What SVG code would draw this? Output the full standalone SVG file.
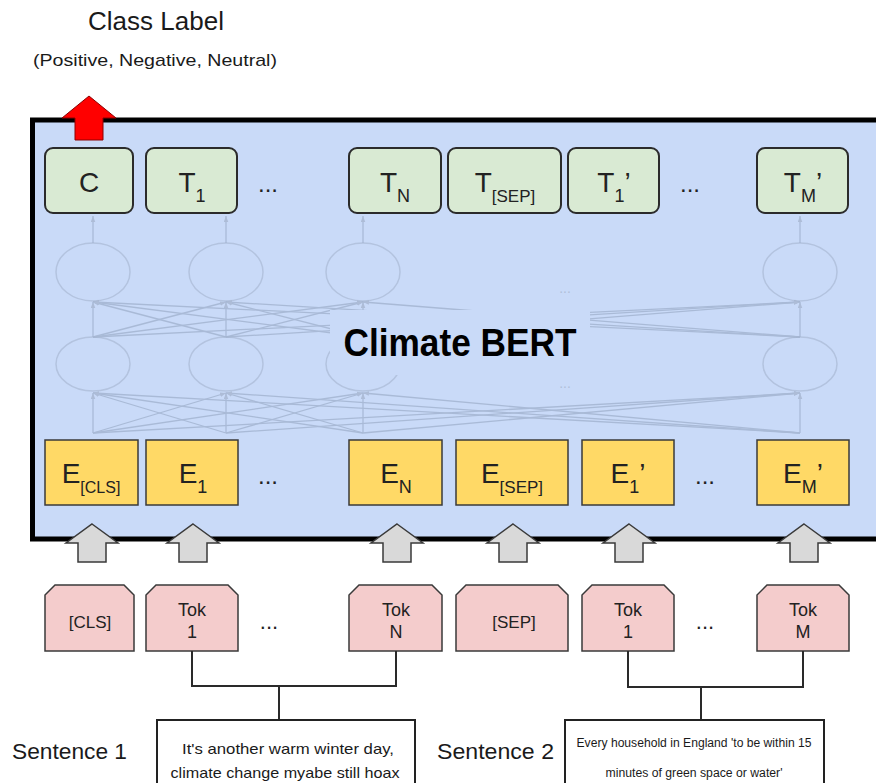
<svg xmlns="http://www.w3.org/2000/svg" width="876" height="783" viewBox="0 0 876 783">
<defs>
<style>
.lbl{font-family:"Liberation Sans",Arial,sans-serif;fill:#1a1a1a}
.box{font-family:"Liberation Sans",Arial,sans-serif;fill:#222}
.green{fill:#d9ead3;stroke:#2b2b2b;stroke-width:2}
.yellow{fill:#ffd966;stroke:#3a3a3a;stroke-width:1.5}
.pink{fill:#f4cccc;stroke:#3a3a3a;stroke-width:1.5}
.net{stroke:#9fb0cc;stroke-width:1.3;fill:none;opacity:0.75}
.ell{stroke:#b3c3df;stroke-width:1.5;fill:none}
.gray{fill:#d9d9d9;stroke:#3a3a3a;stroke-width:1.5;stroke-linejoin:miter}
.con{stroke:#2a2a2a;stroke-width:2;fill:none}
</style>
<marker id="ah" viewBox="0 0 8 6" refX="8" refY="3" markerWidth="6" markerHeight="5" orient="auto" markerUnits="userSpaceOnUse">
<path d="M0,0 L8,3 L0,6 Z" fill="#a4b3cd"/>
</marker>
<path id="garrow" d="M0,-19 L26,0 L14,0 L14,19 L-14,19 L-14,0 L-26,0 Z"/>
</defs>

<g id="titles">
<text class="lbl" x="156" y="30" font-size="26" text-anchor="middle">Class Label</text>
<text class="lbl" x="155" y="66" font-size="17" text-anchor="middle" textLength="244" lengthAdjust="spacingAndGlyphs">(Positive, Negative, Neutral)</text>
</g>

<g id="climate-bert">
<rect x="32.5" y="120" width="860" height="419" fill="#c9daf8" stroke="#000" stroke-width="5"/>
<g id="network">
<g class="ell">
<ellipse cx="93" cy="272" rx="37" ry="29"/>
<ellipse cx="226" cy="272" rx="37" ry="29"/>
<ellipse cx="363" cy="272" rx="37" ry="29"/>
<ellipse cx="800" cy="272" rx="37" ry="29"/>
<ellipse cx="93" cy="364" rx="37" ry="27"/>
<ellipse cx="226" cy="364" rx="37" ry="27"/>
<ellipse cx="363" cy="364" rx="37" ry="27"/>
<ellipse cx="800" cy="364" rx="37" ry="27"/>
</g>
<g class="net" marker-end="url(#ah)">
<line x1="93" y1="243" x2="93" y2="216" marker-end="url(#ah)"/>
<line x1="226" y1="243" x2="226" y2="216" marker-end="url(#ah)"/>
<line x1="363" y1="243" x2="363" y2="216" marker-end="url(#ah)"/>
<line x1="800" y1="243" x2="800" y2="216" marker-end="url(#ah)"/>

<line x1="93" y1="337" x2="93" y2="302" marker-end="url(#ah)"/>
<line x1="93" y1="337" x2="226" y2="302" marker-end="url(#ah)"/>
<line x1="93" y1="337" x2="363" y2="302" marker-end="url(#ah)"/>
<line x1="93" y1="337" x2="800" y2="302" marker-end="url(#ah)"/>
<line x1="226" y1="337" x2="93" y2="302" marker-end="url(#ah)"/>
<line x1="226" y1="337" x2="226" y2="302" marker-end="url(#ah)"/>
<line x1="226" y1="337" x2="363" y2="302" marker-end="url(#ah)"/>
<line x1="226" y1="337" x2="800" y2="302" marker-end="url(#ah)"/>
<line x1="363" y1="337" x2="93" y2="302" marker-end="url(#ah)"/>
<line x1="363" y1="337" x2="226" y2="302" marker-end="url(#ah)"/>
<line x1="363" y1="337" x2="363" y2="302" marker-end="url(#ah)"/>
<line x1="363" y1="337" x2="800" y2="302" marker-end="url(#ah)"/>
<line x1="800" y1="337" x2="93" y2="302" marker-end="url(#ah)"/>
<line x1="800" y1="337" x2="226" y2="302" marker-end="url(#ah)"/>
<line x1="800" y1="337" x2="363" y2="302" marker-end="url(#ah)"/>
<line x1="800" y1="337" x2="800" y2="302" marker-end="url(#ah)"/>

<line x1="93" y1="433" x2="93" y2="393" marker-end="url(#ah)"/>
<line x1="93" y1="433" x2="226" y2="393" marker-end="url(#ah)"/>
<line x1="93" y1="433" x2="363" y2="393" marker-end="url(#ah)"/>
<line x1="93" y1="433" x2="800" y2="393" marker-end="url(#ah)"/>
<line x1="226" y1="433" x2="93" y2="393" marker-end="url(#ah)"/>
<line x1="226" y1="433" x2="226" y2="393" marker-end="url(#ah)"/>
<line x1="226" y1="433" x2="363" y2="393" marker-end="url(#ah)"/>
<line x1="226" y1="433" x2="800" y2="393" marker-end="url(#ah)"/>
<line x1="363" y1="433" x2="93" y2="393" marker-end="url(#ah)"/>
<line x1="363" y1="433" x2="226" y2="393" marker-end="url(#ah)"/>
<line x1="363" y1="433" x2="363" y2="393" marker-end="url(#ah)"/>
<line x1="363" y1="433" x2="800" y2="393" marker-end="url(#ah)"/>
<line x1="800" y1="433" x2="93" y2="393" marker-end="url(#ah)"/>
<line x1="800" y1="433" x2="226" y2="393" marker-end="url(#ah)"/>
<line x1="800" y1="433" x2="363" y2="393" marker-end="url(#ah)"/>
<line x1="800" y1="433" x2="800" y2="393" marker-end="url(#ah)"/>
</g>
<text x="565" y="293" font-family="Liberation Sans,sans-serif" font-size="14" fill="#b0bfd9" text-anchor="middle">...</text>
<text x="565" y="388" font-family="Liberation Sans,sans-serif" font-size="14" fill="#b0bfd9" text-anchor="middle">...</text>
</g>
<rect x="330" y="310" width="260" height="65" fill="#c9daf8"/>
<text x="460" y="356" font-family="Liberation Sans,Arial,sans-serif" font-weight="bold" font-size="38" fill="#000" text-anchor="middle" textLength="233" lengthAdjust="spacingAndGlyphs">Climate BERT</text>
</g>

<g id="red-arrow">
<path d="M89,96 L116,118 L103,118 L103,140 L75,140 L75,118 L62,118 Z" fill="#ff0000" stroke="#8b0000" stroke-width="1"/>
</g>

<g id="out-C"><rect class="green" x="45" y="148" width="88" height="65" rx="8"/><text class="box" x="89" y="192" font-size="28" text-anchor="middle">C</text></g>
<g id="out-T1"><rect class="green" x="146" y="148" width="91" height="65" rx="8"/><text class="box" x="192" y="192" font-size="28" text-anchor="middle">T<tspan dy="10" font-size="18">1</tspan></text></g>
<g id="out-dots1"><text class="box" x="268" y="192" font-size="24" text-anchor="middle">...</text></g>
<g id="out-TN"><rect class="green" x="349" y="148" width="92" height="65" rx="8"/><text class="box" x="395" y="192" font-size="28" text-anchor="middle">T<tspan dy="10" font-size="18">N</tspan></text></g>
<g id="out-TSEP"><rect class="green" x="448" y="148" width="113" height="65" rx="8"/><text class="box" x="505" y="192" font-size="28" text-anchor="middle">T<tspan dy="10" font-size="17">[SEP]</tspan></text></g>
<g id="out-T1p"><rect class="green" x="568" y="148" width="91" height="65" rx="8"/><text class="box" x="614" y="192" font-size="28" text-anchor="middle">T<tspan dy="10" font-size="18">1</tspan><tspan dy="-10">’</tspan></text></g>
<g id="out-dots2"><text class="box" x="690" y="192" font-size="24" text-anchor="middle">...</text></g>
<g id="out-TMp"><rect class="green" x="757" y="148" width="91" height="65" rx="8"/><text class="box" x="803" y="192" font-size="28" text-anchor="middle">T<tspan dy="10" font-size="18">M</tspan><tspan dy="-10">’</tspan></text></g>

<g id="emb-CLS"><rect class="yellow" x="45" y="440" width="93" height="65"/><text class="box" x="91" y="483" font-size="28" text-anchor="middle">E<tspan dy="10" font-size="16">[CLS]</tspan></text></g>
<g id="emb-1"><rect class="yellow" x="146" y="440" width="92" height="65"/><text class="box" x="193" y="483" font-size="28" text-anchor="middle">E<tspan dy="10" font-size="18">1</tspan></text></g>
<g id="emb-dots1"><text class="box" x="268" y="484" font-size="24" text-anchor="middle">...</text></g>
<g id="emb-N"><rect class="yellow" x="349" y="440" width="93" height="65"/><text class="box" x="396" y="483" font-size="28" text-anchor="middle">E<tspan dy="10" font-size="18">N</tspan></text></g>
<g id="emb-SEP"><rect class="yellow" x="456" y="440" width="112" height="65"/><text class="box" x="512" y="483" font-size="28" text-anchor="middle">E<tspan dy="10" font-size="17">[SEP]</tspan></text></g>
<g id="emb-1p"><rect class="yellow" x="582" y="440" width="92" height="65"/><text class="box" x="628" y="483" font-size="28" text-anchor="middle">E<tspan dy="10" font-size="18">1</tspan><tspan dy="-10">’</tspan></text></g>
<g id="emb-dots2"><text class="box" x="705" y="484" font-size="24" text-anchor="middle">...</text></g>
<g id="emb-Mp"><rect class="yellow" x="757" y="440" width="92" height="65"/><text class="box" x="803" y="483" font-size="28" text-anchor="middle">E<tspan dy="10" font-size="18">M</tspan><tspan dy="-10">’</tspan></text></g>

<g id="input-arrows" class="gray">
<use href="#garrow" x="92" y="543"/>
<use href="#garrow" x="193" y="543"/>
<use href="#garrow" x="397" y="543"/>
<use href="#garrow" x="513" y="543"/>
<use href="#garrow" x="629" y="543"/>
<use href="#garrow" x="804" y="543"/>
</g>

<g id="tok-CLS"><path class="pink" d="M45,651 V595 L55,585 H124 L134,595 V651 Z"/><text class="box" x="90" y="628" font-size="17" text-anchor="middle">[CLS]</text></g>
<g id="tok-1"><path class="pink" d="M146,651 V595 L156,585 H228 L238,595 V651 Z"/><text class="box" x="192" y="616" font-size="18" text-anchor="middle">Tok</text><text class="box" x="192" y="638" font-size="18" text-anchor="middle">1</text></g>
<g id="tok-dots1"><text class="box" x="269" y="629" font-size="22" text-anchor="middle">...</text></g>
<g id="tok-N"><path class="pink" d="M349,651 V595 L359,585 H432 L442,595 V651 Z"/><text class="box" x="396" y="616" font-size="18" text-anchor="middle">Tok</text><text class="box" x="396" y="638" font-size="18" text-anchor="middle">N</text></g>
<g id="tok-SEP"><path class="pink" d="M456,651 V595 L466,585 H558 L568,595 V651 Z"/><text class="box" x="514" y="628" font-size="17" text-anchor="middle">[SEP]</text></g>
<g id="tok-1p"><path class="pink" d="M582,651 V595 L592,585 H664 L674,595 V651 Z"/><text class="box" x="628" y="616" font-size="18" text-anchor="middle">Tok</text><text class="box" x="628" y="638" font-size="18" text-anchor="middle">1</text></g>
<g id="tok-dots2"><text class="box" x="705" y="629" font-size="22" text-anchor="middle">...</text></g>
<g id="tok-M"><path class="pink" d="M757,651 V595 L767,585 H839 L849,595 V651 Z"/><text class="box" x="803" y="616" font-size="18" text-anchor="middle">Tok</text><text class="box" x="803" y="638" font-size="18" text-anchor="middle">M</text></g>

<g id="connectors" class="con">
<path d="M192,651 V686 H396 V651"/>
<path d="M279,686 V720"/>
<path d="M628,651 V687 H803 V651"/>
<path d="M701,687 V720"/>
</g>

<g id="sentence1">
<text class="lbl" x="12" y="759" font-size="22" textLength="115" lengthAdjust="spacingAndGlyphs">Sentence 1</text>
<rect x="157" y="720" width="258" height="75" fill="#fff" stroke="#222" stroke-width="2"/>
<text class="lbl" x="288" y="754" font-size="15" text-anchor="middle" textLength="212" lengthAdjust="spacingAndGlyphs">It's another warm winter day,</text>
<text class="lbl" x="285" y="778" font-size="15" text-anchor="middle" textLength="229" lengthAdjust="spacingAndGlyphs">climate change myabe still hoax</text>
</g>

<g id="sentence2">
<text class="lbl" x="437" y="759" font-size="22" textLength="117" lengthAdjust="spacingAndGlyphs">Sentence 2</text>
<rect x="565" y="720" width="259" height="75" fill="#fff" stroke="#222" stroke-width="2"/>
<text class="lbl" x="694" y="747" font-size="12" text-anchor="middle" textLength="235" lengthAdjust="spacingAndGlyphs">Every household in England 'to be within 15</text>
<text class="lbl" x="694" y="777" font-size="12" text-anchor="middle" textLength="177" lengthAdjust="spacingAndGlyphs">minutes of green space or water'</text>
</g>
</svg>
